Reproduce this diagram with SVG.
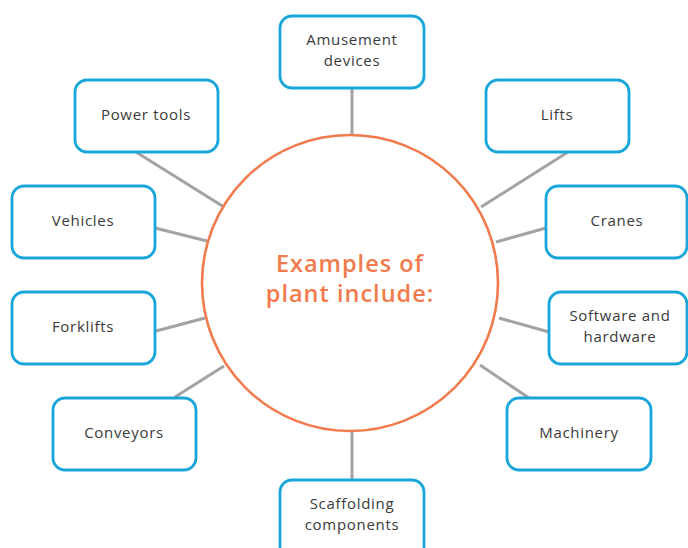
<svg xmlns="http://www.w3.org/2000/svg" width="688" height="548" viewBox="0 0 688 548">
<style>
.box{fill:#fff;stroke:#1AA6DA;stroke-width:2.8}
.lbl{font-family:"Open Sans","Liberation Sans",sans-serif;font-size:15px;fill:#3a3a3a;text-anchor:middle;letter-spacing:0.7px}
.con{stroke:#A3A3A3;stroke-width:3;fill:none}
.hub{fill:#fff;stroke:#F27B4E;stroke-width:2.6}
.hubt{font-family:"Open Sans","Liberation Sans",sans-serif;font-size:23.5px;font-weight:600;fill:#F27B4E;text-anchor:middle;letter-spacing:1px}
</style>
<rect width="688" height="548" fill="#fff"/>
<g id="connectors">
<line class="con" x1="352" y1="88" x2="352" y2="135"/>
<line class="con" x1="568" y1="152" x2="481" y2="207"/>
<line class="con" x1="546" y1="228" x2="496" y2="242"/>
<line class="con" x1="136" y1="152" x2="224" y2="207"/>
<line class="con" x1="155" y1="228" x2="207" y2="241"/>
<line class="con" x1="156" y1="331" x2="205" y2="318"/>
<line class="con" x1="175" y1="397" x2="224" y2="366"/>
<line class="con" x1="352" y1="431" x2="352" y2="480"/>
<line class="con" x1="499" y1="318" x2="549" y2="332"/>
<line class="con" x1="480" y1="365" x2="529" y2="398"/>
</g>
<g id="hub">
<circle class="hub" cx="350" cy="283" r="148"/>
<text class="hubt" x="350" y="272">Examples of</text>
<text class="hubt" x="350" y="302">plant include:</text>
</g>
<g id="amusement"><rect class="box" x="280" y="16" width="144" height="72" rx="12"/><text class="lbl" x="352" y="45">Amusement</text><text class="lbl" x="352" y="66">devices</text></g>
<g id="lifts"><rect class="box" x="486" y="80" width="143" height="72" rx="12"/><text class="lbl" x="557" y="120">Lifts</text></g>
<g id="cranes"><rect class="box" x="546" y="186" width="141" height="72" rx="12"/><text class="lbl" x="617" y="226">Cranes</text></g>
<g id="software"><rect class="box" x="549" y="292" width="138" height="72" rx="12"/><text class="lbl" x="620" y="321">Software and</text><text class="lbl" x="620" y="342">hardware</text></g>
<g id="machinery"><rect class="box" x="507" y="398" width="144" height="72" rx="12"/><text class="lbl" x="579" y="438">Machinery</text></g>
<g id="scaffolding"><rect class="box" x="280" y="480" width="144" height="80" rx="12"/><text class="lbl" x="352" y="509">Scaffolding</text><text class="lbl" x="352" y="530">components</text></g>
<g id="conveyors"><rect class="box" x="53" y="398" width="143" height="72" rx="12"/><text class="lbl" x="124" y="438">Conveyors</text></g>
<g id="forklifts"><rect class="box" x="12" y="292" width="143" height="72" rx="12"/><text class="lbl" x="83" y="332">Forklifts</text></g>
<g id="vehicles"><rect class="box" x="12" y="186" width="143" height="72" rx="12"/><text class="lbl" x="83" y="226">Vehicles</text></g>
<g id="powertools"><rect class="box" x="75" y="80" width="143" height="72" rx="12"/><text class="lbl" x="146" y="120">Power tools</text></g>
</svg>
